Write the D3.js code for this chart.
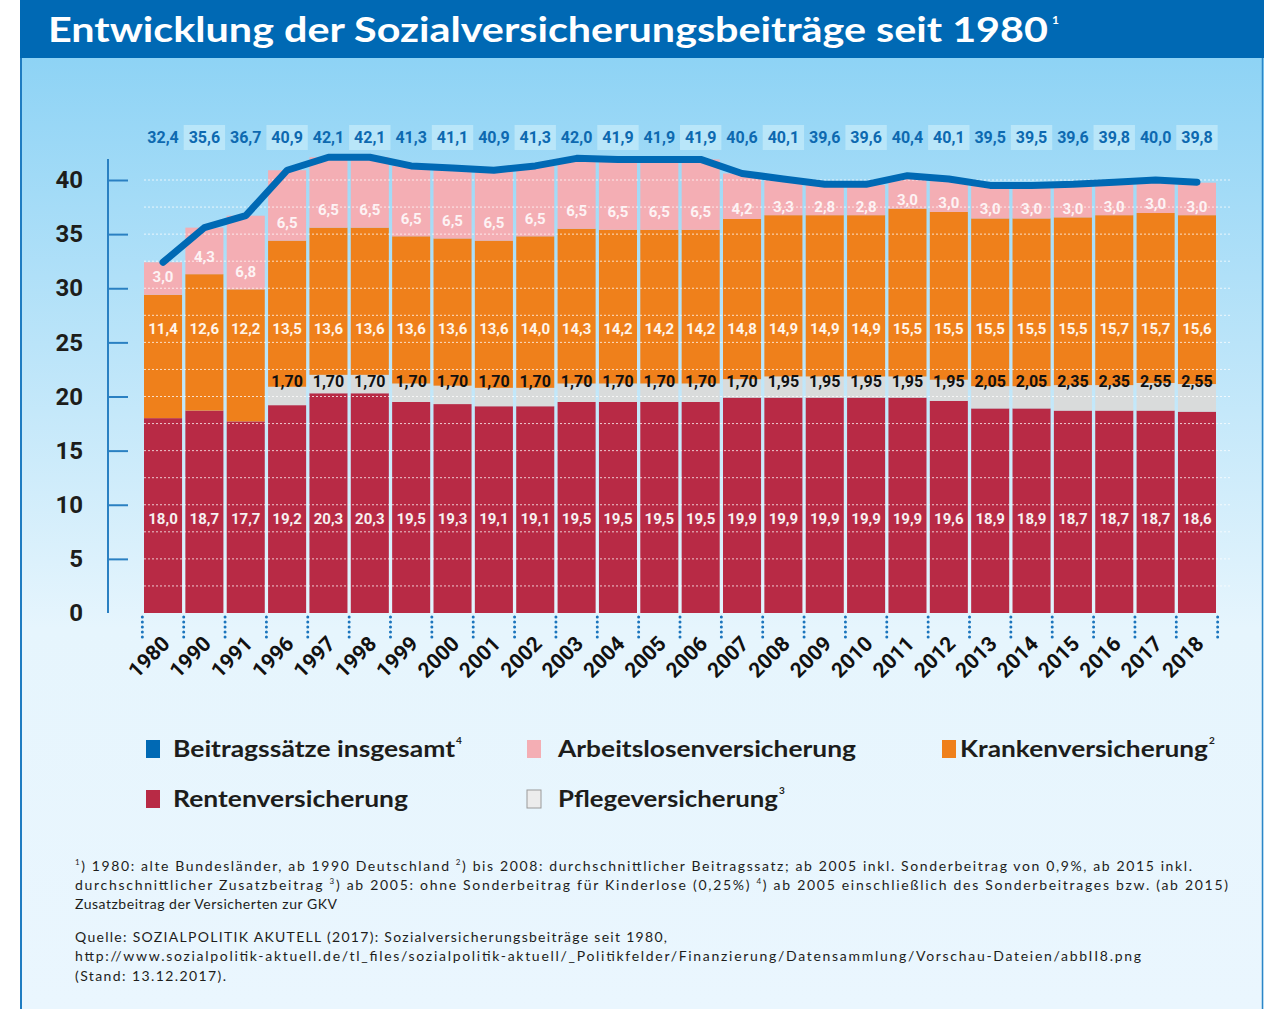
<!DOCTYPE html>
<html>
<head>
<meta charset="utf-8">
<script src="https://cdn.jsdelivr.net/npm/d3@7"></script>
<style>
  body { margin: 0; background: #fff; }
  svg { display: block; }
</style>
</head>
<body>
<div id="chart"></div>
<script>
(function() {

    // data
    var years = ['1980','1990','1991','1996','1997','1998','1999','2000','2001','2002','2003','2004','2005',
                 '2006','2007','2008','2009','2010','2011','2012','2013','2014','2015','2016','2017','2018'];
    var rente = [18.0,18.7,17.7,19.2,20.3,20.3,19.5,19.3,19.1,19.1,19.5,19.5,19.5,
                 19.5,19.9,19.9,19.9,19.9,19.9,19.6,18.9,18.9,18.7,18.7,18.7,18.6];
    var pflege = [0,0,0,1.70,1.70,1.70,1.70,1.70,1.70,1.70,1.70,1.70,1.70,
                  1.70,1.70,1.95,1.95,1.95,1.95,1.95,2.05,2.05,2.35,2.35,2.55,2.55];
    var kranken = [11.4,12.6,12.2,13.5,13.6,13.6,13.6,13.6,13.6,14.0,14.3,14.2,14.2,
                   14.2,14.8,14.9,14.9,14.9,15.5,15.5,15.5,15.5,15.5,15.7,15.7,15.6];
    var arbeitslos = [3.0,4.3,6.8,6.5,6.5,6.5,6.5,6.5,6.5,6.5,6.5,6.5,6.5,
                      6.5,4.2,3.3,2.8,2.8,3.0,3.0,3.0,3.0,3.0,3.0,3.0,3.0];
    var gesamt = [32.4,35.6,36.7,40.9,42.1,42.1,41.3,41.1,40.9,41.3,42.0,41.9,41.9,
                  41.9,40.6,40.1,39.6,39.6,40.4,40.1,39.5,39.5,39.6,39.8,40.0,39.8];
    var yTicks = [0,5,10,15,20,25,30,35,40];

    var colors = {
        gesamt: '#0069b4',
        rente: '#b82a45',
        pflege: '#d9dbdb',
        kranken: '#ef801b',
        arbeitslos: '#f4aeb4'
    };

    var fmt = function(v, d) { return v.toFixed(d).replace('.', ','); };

    var rows = years.map(function(y, i) {
        return { year: y, rente: rente[i], pflege: pflege[i], kranken: kranken[i],
                 arbeitslos: arbeitslos[i], gesamt: gesamt[i] };
    });

    var W = 1264, H = 1009;
    var svg = d3.select('#chart').append('svg').attr('width', W).attr('height', H)
        .attr('font-family', 'Lato, sans-serif');

    var defs = svg.append('defs');
    var grad = defs.append('linearGradient').attr('id', 'bg')
        .attr('x1', 0).attr('y1', 0).attr('x2', 0).attr('y2', 1);
    grad.append('stop').attr('offset', '0').attr('stop-color', '#8ed3f5');
    grad.append('stop').attr('offset', '0.6').attr('stop-color', '#e6f5fd');
    grad.append('stop').attr('offset', '1').attr('stop-color', '#eaf6fe');

    // panel + title bar
    svg.append('rect').attr('x', 20).attr('y', 58).attr('width', W - 20).attr('height', H - 58)
        .attr('fill', 'url(#bg)');
    svg.append('line').attr('x1', 21).attr('x2', 21).attr('y1', 0).attr('y2', H)
        .attr('stroke', '#1f7cc1').attr('stroke-width', 2);
    svg.append('line').attr('x1', 1262.5).attr('x2', 1262.5).attr('y1', 0).attr('y2', H)
        .attr('stroke', '#2b86c8').attr('stroke-width', 1.5);
    svg.append('rect').attr('x', 20).attr('y', 0).attr('width', W - 20).attr('height', 58)
        .attr('fill', '#0069b4');
    svg.append('text').attr('x', 48).attr('y', 42)
        .attr('fill', '#fff').attr('font-size', 34).attr('font-weight', 'bold')
        .attr('textLength', 1000).attr('lengthAdjust', 'spacingAndGlyphs')
        .text('Entwicklung der Sozialversicherungsbeiträge seit 1980');
    svg.append('text').attr('x', 1052).attr('y', 24)
        .attr('fill', '#fff').attr('font-size', 12).attr('font-weight', 'bold')
        .text('1');

    // scales
    var x = d3.scaleBand().domain(years).range([144, 1216]).paddingInner(0.08);
    var y = d3.scaleLinear().domain([0, 40]).range([613, 180]);
    var bw = x.bandwidth();
    var gap = x.step() - bw;

    // boxes behind every second total label
    svg.append('g').selectAll('rect')
        .data(rows.filter(function(d, i) { return i % 2 === 1; }))
        .enter().append('rect')
        .attr('x', function(d) { return x(d.year) - gap / 2; })
        .attr('y', 125)
        .attr('width', x.step())
        .attr('height', 25)
        .attr('fill', '#b9e6f9');

    // stacked bars
    var keys = ['rente', 'pflege', 'kranken', 'arbeitslos'];
    var series = d3.stack().keys(keys)(rows);

    svg.append('g').selectAll('g')
        .data(series)
        .enter().append('g')
        .attr('fill', function(s) { return colors[s.key]; })
        .selectAll('rect')
        .data(function(s) { return s; })
        .enter().append('rect')
        .attr('x', function(d) { return x(d.data.year); })
        .attr('width', bw)
        .attr('y', function(d) { return y(d[1]); })
        .attr('height', function(d) { return y(d[0]) - y(d[1]); });

    // dotted grid lines (also over the bars)
    svg.append('g').selectAll('line')
        .data(d3.range(2.5, 40.01, 2.5))
        .enter().append('line')
        .attr('x1', 144).attr('x2', 1232)
        .attr('y1', function(d) { return y(d); })
        .attr('y2', function(d) { return y(d); })
        .attr('stroke', '#ffffff').attr('stroke-opacity', 0.75)
        .attr('stroke-width', 1).attr('stroke-dasharray', '2,2');

    // segment labels
    var labels = svg.append('g').attr('font-family', 'Roboto, sans-serif')
        .attr('font-weight', 'bold').attr('text-anchor', 'middle');

    labels.selectAll('.lr').data(rows).enter().append('text')
        .attr('x', function(d) { return x(d.year) + bw / 2; })
        .attr('y', 519).attr('dy', '0.36em')
        .attr('font-size', 15).attr('fill', '#f6f0f1')
        .text(function(d) { return fmt(d.rente, 1); });

    labels.selectAll('.lp').data(rows.filter(function(d) { return d.pflege > 0; })).enter().append('text')
        .attr('x', function(d) { return x(d.year) + bw / 2; })
        .attr('y', 381).attr('dy', '0.36em')
        .attr('font-size', 16).attr('fill', '#111')
        .text(function(d) { return fmt(d.pflege, 2); });

    labels.selectAll('.lk').data(rows).enter().append('text')
        .attr('x', function(d) { return x(d.year) + bw / 2; })
        .attr('y', 329).attr('dy', '0.36em')
        .attr('font-size', 15).attr('fill', '#fff5ea')
        .text(function(d) { return fmt(d.kranken, 1); });

    labels.selectAll('.la').data(series[3]).enter().append('text')
        .attr('x', function(d) { return x(d.data.year) + bw / 2; })
        .attr('y', function(d) {
            var bottom = y(d[0]);
            return Math.min(Math.max(bottom - 18, 209), bottom - 9);
        })
        .attr('dy', '0.36em')
        .attr('font-size', 15).attr('fill', '#fdf3f4')
        .text(function(d) { return fmt(d.data.arbeitslos, 1); });

    // total line
    var line = d3.line()
        .x(function(d) { return x(d.year) + bw / 2; })
        .y(function(d) { return y(d.gesamt); });

    svg.append('path').datum(rows)
        .attr('d', line)
        .attr('fill', 'none')
        .attr('stroke', colors.gesamt)
        .attr('stroke-width', 7)
        .attr('stroke-linejoin', 'round')
        .attr('stroke-linecap', 'round');

    // totals on top
    svg.append('g').selectAll('text').data(rows).enter().append('text')
        .attr('x', function(d) { return x(d.year) + bw / 2; })
        .attr('y', 137.5).attr('dy', '0.36em')
        .attr('text-anchor', 'middle')
        .attr('font-family', 'Roboto, sans-serif').attr('font-weight', 'bold')
        .attr('font-size', 16).attr('fill', '#0d69b0')
        .text(function(d) { return fmt(d.gesamt, 1); });

    // y axis
    var yAxisG = svg.append('g').attr('transform', 'translate(108,0)');
    yAxisG.append('line').attr('x1', 0).attr('x2', 0).attr('y1', 159).attr('y2', 613)
        .attr('stroke', '#2a80c2').attr('stroke-width', 2);
    var tickG = yAxisG.append('g')
        .call(d3.axisRight(y).tickValues(yTicks.slice(1)).tickSize(20).tickFormat(''));
    tickG.select('.domain').remove();
    tickG.selectAll('.tick line').attr('stroke', '#2a80c2').attr('stroke-width', 2);

    var labG = yAxisG.append('g')
        .call(d3.axisLeft(y).tickValues(yTicks).tickSize(0).tickPadding(25));
    labG.select('.domain').remove();
    labG.selectAll('.tick text')
        .attr('font-family', 'Roboto, sans-serif').attr('font-weight', 'bold')
        .attr('font-size', 24).attr('fill', '#1d1d1b');

    // dotted separators under the x axis
    var seps = years.map(function(yr) { return x(yr) - gap / 2; });
    seps.push(x(years[years.length - 1]) + bw + gap / 2);
    svg.append('g').selectAll('line').data(seps).enter().append('line')
        .attr('x1', function(d) { return d; }).attr('x2', function(d) { return d; })
        .attr('y1', 617).attr('y2', 640)
        .attr('stroke', '#1a74bc').attr('stroke-width', 3)
        .attr('stroke-linecap', 'round').attr('stroke-dasharray', '0,5');

    // year labels
    svg.append('g').selectAll('text').data(years).enter().append('text')
        .attr('transform', function(d) {
            return 'translate(' + (x(d) + bw / 2 + 8) + ',645) rotate(-45)';
        })
        .attr('text-anchor', 'end')
        .attr('font-family', 'Roboto, sans-serif').attr('font-weight', 'bold')
        .attr('font-size', 21).attr('fill', '#111')
        .text(function(d) { return d; });

    // legend
    var legendItems = [
        { label: 'Beitragssätze insgesamt', sup: '4', color: colors.gesamt, x: 146, y: 740, tx: 173, w: 282 },
        { label: 'Arbeitslosenversicherung', sup: '', color: colors.arbeitslos, x: 527, y: 740, tx: 558, w: 298 },
        { label: 'Krankenversicherung', sup: '2', color: colors.kranken, x: 942, y: 740, tx: 960, w: 248 },
        { label: 'Rentenversicherung', sup: '', color: colors.rente, x: 146, y: 790, tx: 173, w: 235 },
        { label: 'Pflegeversicherung', sup: '3', color: '#ececec', x: 527, y: 790, tx: 558, w: 220, border: true }
    ];
    var lg = svg.append('g').selectAll('g').data(legendItems).enter().append('g');
    lg.append('rect')
        .attr('x', function(d) { return d.x; }).attr('y', function(d) { return d.y; })
        .attr('width', 14).attr('height', 18)
        .attr('fill', function(d) { return d.color; })
        .attr('stroke', function(d) { return d.border ? '#9a9a9a' : 'none'; });
    lg.append('text')
        .attr('x', function(d) { return d.tx; }).attr('y', function(d) { return d.y + 17; })
        .attr('font-weight', 'bold')
        .attr('font-size', 22).attr('fill', '#1d1d1b')
        .attr('textLength', function(d) { return d.w; })
        .attr('lengthAdjust', 'spacingAndGlyphs')
        .text(function(d) { return d.label; });
    lg.append('text')
        .attr('x', function(d) { return d.tx + d.w + 1; }).attr('y', function(d) { return d.y + 4; })
        .attr('font-weight', 'bold')
        .attr('font-size', 10).attr('fill', '#1d1d1b')
        .text(function(d) { return d.sup; });

    // footnotes
    var notes = [
        { y: 871, w: 1117, parts: [['1', true], [') 1980: alte Bundesländer, ab 1990 Deutschland ', false], ['2', true],
            [') bis 2008: durchschnittlicher Beitragssatz; ab 2005 inkl. Sonderbeitrag von 0,9%, ab 2015 inkl.', false]] },
        { y: 890, w: 1153, parts: [['durchschnittlicher Zusatzbeitrag ', false], ['3', true],
            [') ab 2005: ohne Sonderbeitrag für Kinderlose (0,25%) ', false], ['4', true],
            [') ab 2005 einschließlich des Sonderbeitrages bzw. (ab 2015)', false]] },
        { y: 909, w: 262, parts: [['Zusatzbeitrag der Versicherten zur GKV', false]] },
        { y: 942, w: 592, parts: [['Quelle: SOZIALPOLITIK AKUTELL (2017): Sozialversicherungsbeiträge seit 1980,', false]] },
        { y: 961, w: 1066, parts: [['http://www.sozialpolitik-aktuell.de/tl_files/sozialpolitik-aktuell/_Politikfelder/Finanzierung/Datensammlung/Vorschau-Dateien/abbII8.png', false]] },
        { y: 981, w: 151, parts: [['(Stand: 13.12.2017).', false]] }
    ];
    var nt = svg.append('g').selectAll('text').data(notes).enter().append('text')
        .attr('x', 75).attr('y', function(d) { return d.y; })
        .attr('font-size', 14).attr('fill', '#1d1d1b')
        .attr('textLength', function(d) { return d.w; })
        .attr('lengthAdjust', 'spacing');
    nt.each(function(d) {
        var t = d3.select(this);
        var raised = false;
        d.parts.forEach(function(p) {
            var ts = t.append('tspan').text(p[0]);
            if (p[1]) { ts.attr('font-size', 8).attr('dy', -6); raised = true; }
            else if (raised) { ts.attr('dy', 6); raised = false; }
        });
    });

})();
</script>
</body>
</html>
